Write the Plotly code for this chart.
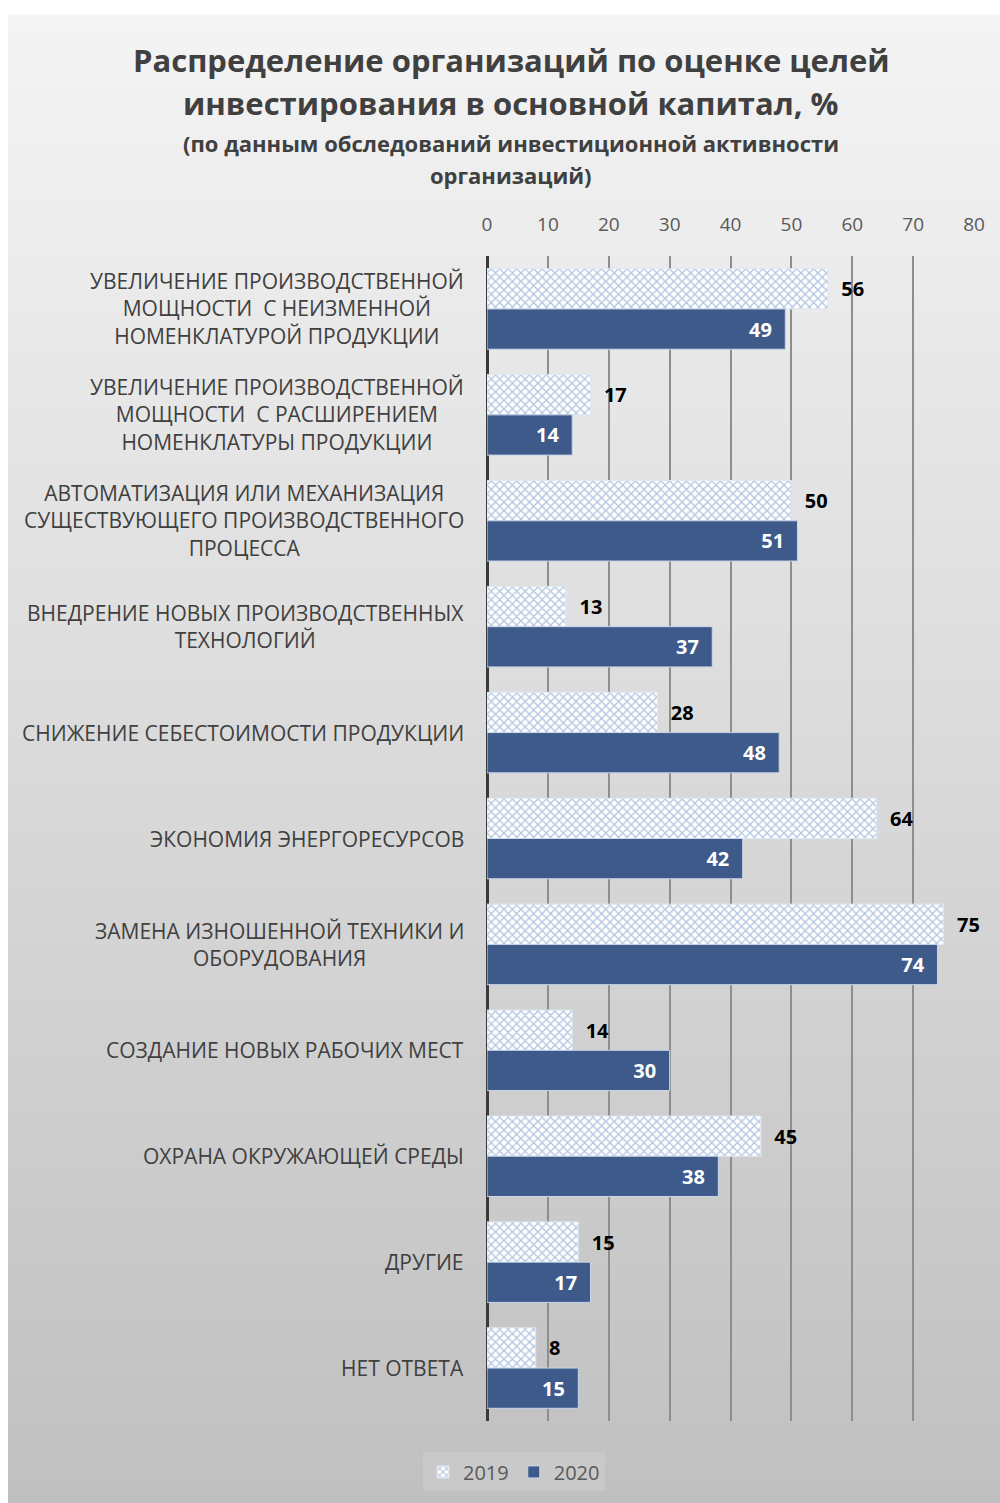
import plotly.graph_objects as go

categories = [
    "УВЕЛИЧЕНИЕ ПРОИЗВОДСТВЕННОЙ<br>МОЩНОСТИ  С НЕИЗМЕННОЙ<br>НОМЕНКЛАТУРОЙ ПРОДУКЦИИ",
    "УВЕЛИЧЕНИЕ ПРОИЗВОДСТВЕННОЙ<br>МОЩНОСТИ  С РАСШИРЕНИЕМ<br>НОМЕНКЛАТУРЫ ПРОДУКЦИИ",
    "АВТОМАТИЗАЦИЯ ИЛИ МЕХАНИЗАЦИЯ<br>СУЩЕСТВУЮЩЕГО ПРОИЗВОДСТВЕННОГО<br>ПРОЦЕССА",
    "ВНЕДРЕНИЕ НОВЫХ ПРОИЗВОДСТВЕННЫХ<br>ТЕХНОЛОГИЙ",
    "СНИЖЕНИЕ СЕБЕСТОИМОСТИ ПРОДУКЦИИ",
    "ЭКОНОМИЯ ЭНЕРГОРЕСУРСОВ",
    "ЗАМЕНА ИЗНОШЕННОЙ ТЕХНИКИ И<br>ОБОРУДОВАНИЯ",
    "СОЗДАНИЕ НОВЫХ РАБОЧИХ МЕСТ",
    "ОХРАНА ОКРУЖАЮЩЕЙ СРЕДЫ",
    "ДРУГИЕ",
    "НЕТ ОТВЕТА",
]
values_2019 = [56, 17, 50, 13, 28, 64, 75, 14, 45, 15, 8]
values_2020 = [49, 14, 51, 37, 48, 42, 74, 30, 38, 17, 15]
x_ticks = [0, 10, 20, 30, 40, 50, 60, 70, 80]

title_lines = [
    "Распределение организаций по оценке целей",
    "инвестирования в основной капитал, %",
]
subtitle_lines = [
    "(по данным обследований инвестиционной активности",
    "организаций)",
]

FONT = "Open Sans"
OFF = 0
W, H = 1000, 1503
ML, MR, MT, MB = 487, 26, 256, 80
PW = W - ML - MR
PH = H - MT - MB


def px_x(px):
    return (px - OFF - ML) / PW


def px_y(py):
    return (H - MB - (py - OFF)) / PH


fig = go.Figure()
fig.add_trace(go.Bar(
    name="2019", y=categories, x=values_2019, orientation="h",
    marker=dict(color="white", line=dict(color="#dfe7f2", width=1),
                pattern=dict(shape="x", fgcolor="#6990c4", bgcolor="white",
                             size=6, solidity=0.4)),
    text=values_2019, texttemplate="\u00a0\u00a0%{x}", textposition="outside",
    textfont=dict(family=FONT, size=20, color="black", weight="bold"),
    cliponaxis=False,
))
fig.add_trace(go.Bar(
    name="2020", y=categories, x=values_2020, orientation="h",
    marker=dict(color="#3e5a8a", line=dict(color="#c9d6ea", width=1)),
    text=values_2020, texttemplate="%{x}\u00a0\u00a0", textposition="inside",
    insidetextanchor="end",
    textfont=dict(family=FONT, size=20, color="white", weight="bold"),
))

# background gradient
shapes = []
n = 80
top_px, bot_px = 14, 1505
c_top, c_bot = 244, 192
for i in range(n):
    y0 = top_px + (bot_px - top_px) * i / n
    y1 = top_px + (bot_px - top_px) * (i + 1) / n + 1
    c = round(c_top + (c_bot - c_top) * (i + 0.5) / n)
    shapes.append(dict(type="rect", xref="paper", yref="paper",
                       x0=px_x(8), x1=px_x(1002), y0=px_y(y1), y1=px_y(y0),
                       fillcolor=f"rgb({c},{c},{c})", line=dict(width=0),
                       layer="below"))

annotations = []
for cat in categories:
    annotations.append(dict(text=cat, xref="paper", yref="y", x=px_x(466), y=cat,
                            xanchor="right", yanchor="middle", align="center",
                            showarrow=False,
                            font=dict(family=FONT, size=21, color="#404040")))
for txt, py in zip(title_lines, [60, 103]):
    annotations.append(dict(text=f"<b>{txt}</b>", xref="paper", yref="paper",
                            x=px_x(511), y=px_y(py), xanchor="center", yanchor="middle",
                            showarrow=False,
                            font=dict(family=FONT, size=31, color="#404040")))
for txt, py in zip(subtitle_lines, [143, 175]):
    annotations.append(dict(text=f"<b>{txt}</b>", xref="paper", yref="paper",
                            x=px_x(511), y=px_y(py), xanchor="center", yanchor="middle",
                            showarrow=False,
                            font=dict(family=FONT, size=22, color="#404040")))

fig.update_layout(
    width=W, height=H,
    margin=dict(l=ML, r=MR, t=MT, b=MB),
    paper_bgcolor="white", plot_bgcolor="rgba(0,0,0,0)",
    barmode="group", bargap=0.24, bargroupgap=0,
    shapes=shapes, annotations=annotations,
    showlegend=True,
    legend=dict(orientation="h", x=px_x(514), xanchor="center",
                y=px_y(1474), yanchor="middle",
                bgcolor="rgba(255,255,255,0.13)",
                font=dict(family=FONT, size=20, color="#595959"),
                itemwidth=30),
    font=dict(family=FONT),
    hovermode=False,
)
fig.update_xaxes(range=[0, 80], side="top", tickvals=x_ticks,
                 showgrid=True, gridcolor="#8e8e8e", gridwidth=1.5,
                 zeroline=True, zerolinecolor="#3a3a3a", zerolinewidth=3,
                 showline=False, ticks="",
                 tickfont=dict(family=FONT, size=19, color="#595959"),
                 ticklabelstandoff=20, fixedrange=True)
fig.update_yaxes(categoryorder="array", categoryarray=categories,
                 autorange="reversed", showticklabels=False, showgrid=False,
                 zeroline=False, showline=False, fixedrange=True)

fig.write_html("out.html",
               config={"displayModeBar": False},
               post_script="document.body.style.margin='0px';"
                           "document.body.style.overflow='hidden';")
